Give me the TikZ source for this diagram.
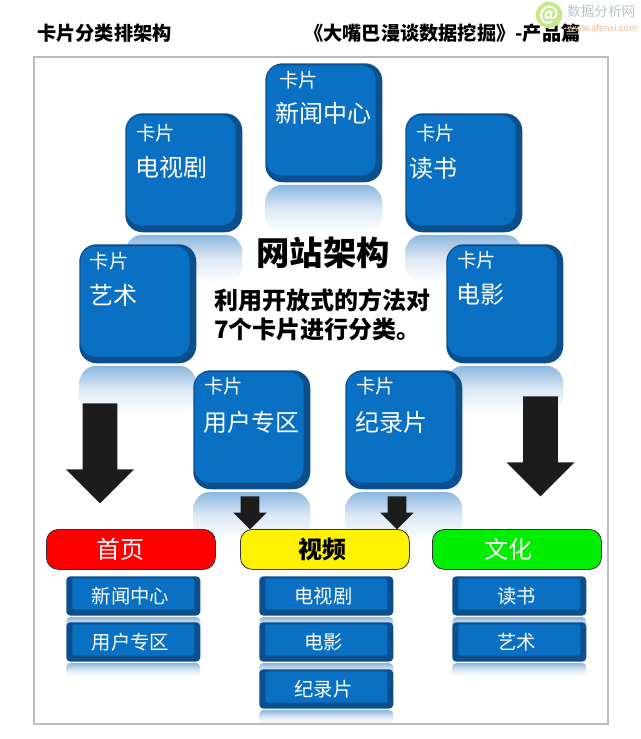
\documentclass[tikz,border=0pt]{standalone}
\usepackage{fontspec}
\setmainfont{Noto Sans CJK SC}
\usepackage{xcolor}
\usetikzlibrary{shapes.arrows, positioning, backgrounds}
\definecolor{cardblue}{HTML}{0A70C4}
\definecolor{carddark}{HTML}{0B4F8C}
\definecolor{shineblue}{HTML}{8CB6DE}
\definecolor{framegrey}{HTML}{BBBBBB}
\definecolor{darkarrow}{HTML}{1C1C1C}
\definecolor{logogreen}{HTML}{C4E88A}
\definecolor{logotext}{HTML}{B9C4CC}
\definecolor{logoorange}{HTML}{EDB98C}
\definecolor{pillgreen}{HTML}{00EE00}
\tikzstyle{card} = [rectangle, anchor=north west, minimum width=87.75pt, minimum height=89.25pt, rounded corners=13pt, fill=carddark, inner sep=0pt, path picture={\fill [cardblue, rounded corners=11pt] ([xshift=1pt, yshift=-1.5pt]path picture bounding box.north west) rectangle ([xshift=-5pt, yshift=5pt]path picture bounding box.south east);}]
\tikzstyle{cardshine} = [rectangle, minimum width=87.75pt, minimum height=36pt, rounded corners=13pt, top color=shineblue, bottom color=white, middle color=shineblue!30, inner sep=0pt]
\tikzstyle{cardtag} = [anchor=west, text=white, font=\fontsize{14.5pt}{16pt}\selectfont, inner sep=0pt]
\tikzstyle{cardname} = [anchor=west, text=white, font=\fontsize{18pt}{20pt}\selectfont, inner sep=0pt]
\tikzstyle{bar} = [rectangle, anchor=north west, minimum width=100.5pt, minimum height=29.5pt, rounded corners=3pt, fill=carddark, inner sep=0pt, text=white, font=\fontsize{14.5pt}{16pt}\selectfont, execute at begin node={\hspace*{-4pt}}, path picture={\fill [cardblue, rounded corners=1.5pt] ([xshift=4.5pt, yshift=-1.5pt]path picture bounding box.north west) rectangle ([xshift=-4.5pt, yshift=4.5pt]path picture bounding box.south east);}]
\tikzstyle{barshine} = [rectangle, minimum width=100.5pt, minimum height=10pt, rounded corners=3pt, top color=shineblue, bottom color=white, middle color=shineblue!30, inner sep=0pt]
\tikzstyle{pill} = [rectangle, anchor=north west, minimum width=126.75pt, minimum height=30pt, rounded corners=9pt, draw=black!80, line width=0.6pt, inner sep=0pt, font=\fontsize{18pt}{20pt}\selectfont]
\tikzstyle{bigarrow} = [single arrow, rotate=-90, anchor=west, fill=darkarrow, text height=25.5pt, text depth=0pt, minimum height=75pt, single arrow head extend=12.4pt, single arrow head indent=0pt, inner sep=0pt]
\tikzstyle{smallarrow} = [single arrow, rotate=-90, anchor=west, fill=darkarrow, text height=13.5pt, text depth=0pt, minimum height=24.75pt, single arrow head extend=5.6pt, single arrow head indent=0pt, inner sep=0pt]
\tikzstyle{headline} = [anchor=west, font=\fontsize{14.4pt}{16pt}\selectfont\bfseries, inner sep=0pt]
\begin{document}
\begin{tikzpicture}[x=0.75pt, y=-0.75pt]
        \useasboundingbox (0,0) rectangle (640,739);

        \node (title) [headline] at (37,33) {卡片分类排架构};
        \node (book) [headline] at (304,33) {《大嘴巴漫谈数据挖掘》-产品篇};
        \node (frame) [rectangle, anchor=north west, draw=framegrey, line width=1.5pt, minimum width=430.5pt, minimum height=500.25pt, inner sep=0pt] at (33,56) {};

        % logo
        \node (logo) [circle, fill=logogreen, minimum size=19.5pt, inner sep=0pt, text=white, font=\fontsize{14pt}{14pt}\selectfont\bfseries] at (549,15) {@};
        \node (logoname) [anchor=west, text=logotext, inner sep=0pt, font=\fontsize{10.2pt}{12pt}\selectfont] at (567,11) {数据分析网};
        \node (logourl) [anchor=west, text=logoorange, inner sep=0pt, font=\fontsize{6.8pt}{8pt}\selectfont] at (567,28) {www.afenxi.com};

        % cards
        \node (cardnews) [card] at (265,63) {};
        \node (cardtv) [card] at (125,113) {};
        \node (cardread) [card] at (405,113) {};
        \node (cardart) [card] at (79,244) {};
        \node (cardfilm) [card] at (446,244) {};
        \node (carduser) [card] at (193,370) {};
        \node (carddoc) [card] at (345,370) {};

        \begin{scope}[on background layer]
            \node (shinenews) [cardshine, below=1.5pt of cardnews] {};
            \node (shinetv) [cardshine, below=1.5pt of cardtv] {};
            \node (shineread) [cardshine, below=1.5pt of cardread] {};
            \node (shineart) [cardshine, below=1.5pt of cardart] {};
            \node (shinefilm) [cardshine, below=1.5pt of cardfilm] {};
            \node (shineuser) [cardshine, below=1.5pt of carduser] {};
            \node (shinedoc) [cardshine, below=1.5pt of carddoc] {};
        \end{scope}

        \node (tagnews) [cardtag, right=10.5pt of cardnews.north west, yshift=-12.75pt] {卡片};
        \node (namenews) [cardname, right=8pt of cardnews.north west, yshift=-37.5pt] {新闻中心};
        \node (tagtv) [cardtag, right=8.5pt of cardtv.north west, yshift=-15pt] {卡片};
        \node (nametv) [cardname, right=8pt of cardtv.north west, yshift=-40.5pt] {电视剧};
        \node (tagread) [cardtag, right=8.5pt of cardread.north west, yshift=-15pt] {卡片};
        \node (nameread) [cardname, right=3.5pt of cardread.north west, yshift=-41.25pt] {读书};
        \node (tagart) [cardtag, right=8pt of cardart.north west, yshift=-12.75pt] {卡片};
        \node (nameart) [cardname, right=7.5pt of cardart.north west, yshift=-38.25pt] {艺术};
        \node (tagfilm) [cardtag, right=8.5pt of cardfilm.north west, yshift=-12pt] {卡片};
        \node (namefilm) [cardname, right=8pt of cardfilm.north west, yshift=-37.5pt] {电影};
        \node (taguser) [cardtag, right=8.5pt of carduser.north west, yshift=-12pt] {卡片};
        \node (nameuser) [cardname, right=7.5pt of carduser.north west, yshift=-39pt] {用户专区};
        \node (tagdoc) [cardtag, right=8.5pt of carddoc.north west, yshift=-12pt] {卡片};
        \node (namedoc) [cardname, right=8pt of carddoc.north west, yshift=-39pt] {纪录片};

        % centre text
        \node (site) [anchor=center, inner sep=0pt, font=\fontsize{25pt}{28pt}\selectfont\bfseries] at (323,253) {网站架构};
        \node (method) [anchor=north west, align=left, inner sep=0pt, font=\fontsize{18pt}{21.75pt}\selectfont\bfseries] at (214,288) {利用开放式的方法对\\7个卡片进行分类。};

        % arrows
        \node (arrowhome) [bigarrow] at (100,403) {};
        \node (arrowculture) [bigarrow] at (540.5,396) {};
        \node (arrowuser) [smallarrow] at (250,496) {};
        \node (arrowdoc) [smallarrow] at (397,496) {};

        % columns
        \node (pillhome) [pill, fill=red, text=white] at (46,529) {\hspace*{-15pt}首页};
        \node (pillvideo) [pill, fill=yellow, text=black, font=\fontsize{18pt}{20pt}\selectfont\bfseries] at (240,529) {\hspace*{-4pt}视频};
        \node (pillculture) [pill, fill=pillgreen, text=white] at (432,529) {\hspace*{-13pt}文化};

        \node (barnews) [bar] at (66,576) {新闻中心};
        \node (baruser) [bar] at (66,622) {用户专区};
        \node (bartv) [bar] at (259,576) {电视剧};
        \node (barfilm) [bar] at (259,622) {电影};
        \node (bardoc) [bar] at (259,669) {纪录片};
        \node (barread) [bar] at (452,576) {读书};
        \node (barart) [bar] at (452,622) {艺术};

        \begin{scope}[on background layer]
            \node (glownews) [barshine, below=0.75pt of barnews] {};
            \node (glowuser) [barshine, below=0.75pt of baruser] {};
            \node (glowtv) [barshine, below=0.75pt of bartv] {};
            \node (glowfilm) [barshine, below=0.75pt of barfilm] {};
            \node (glowdoc) [barshine, below=0.75pt of bardoc] {};
            \node (glowread) [barshine, below=0.75pt of barread] {};
            \node (glowart) [barshine, below=0.75pt of barart] {};
        \end{scope}
    \end{tikzpicture}
\end{document}
